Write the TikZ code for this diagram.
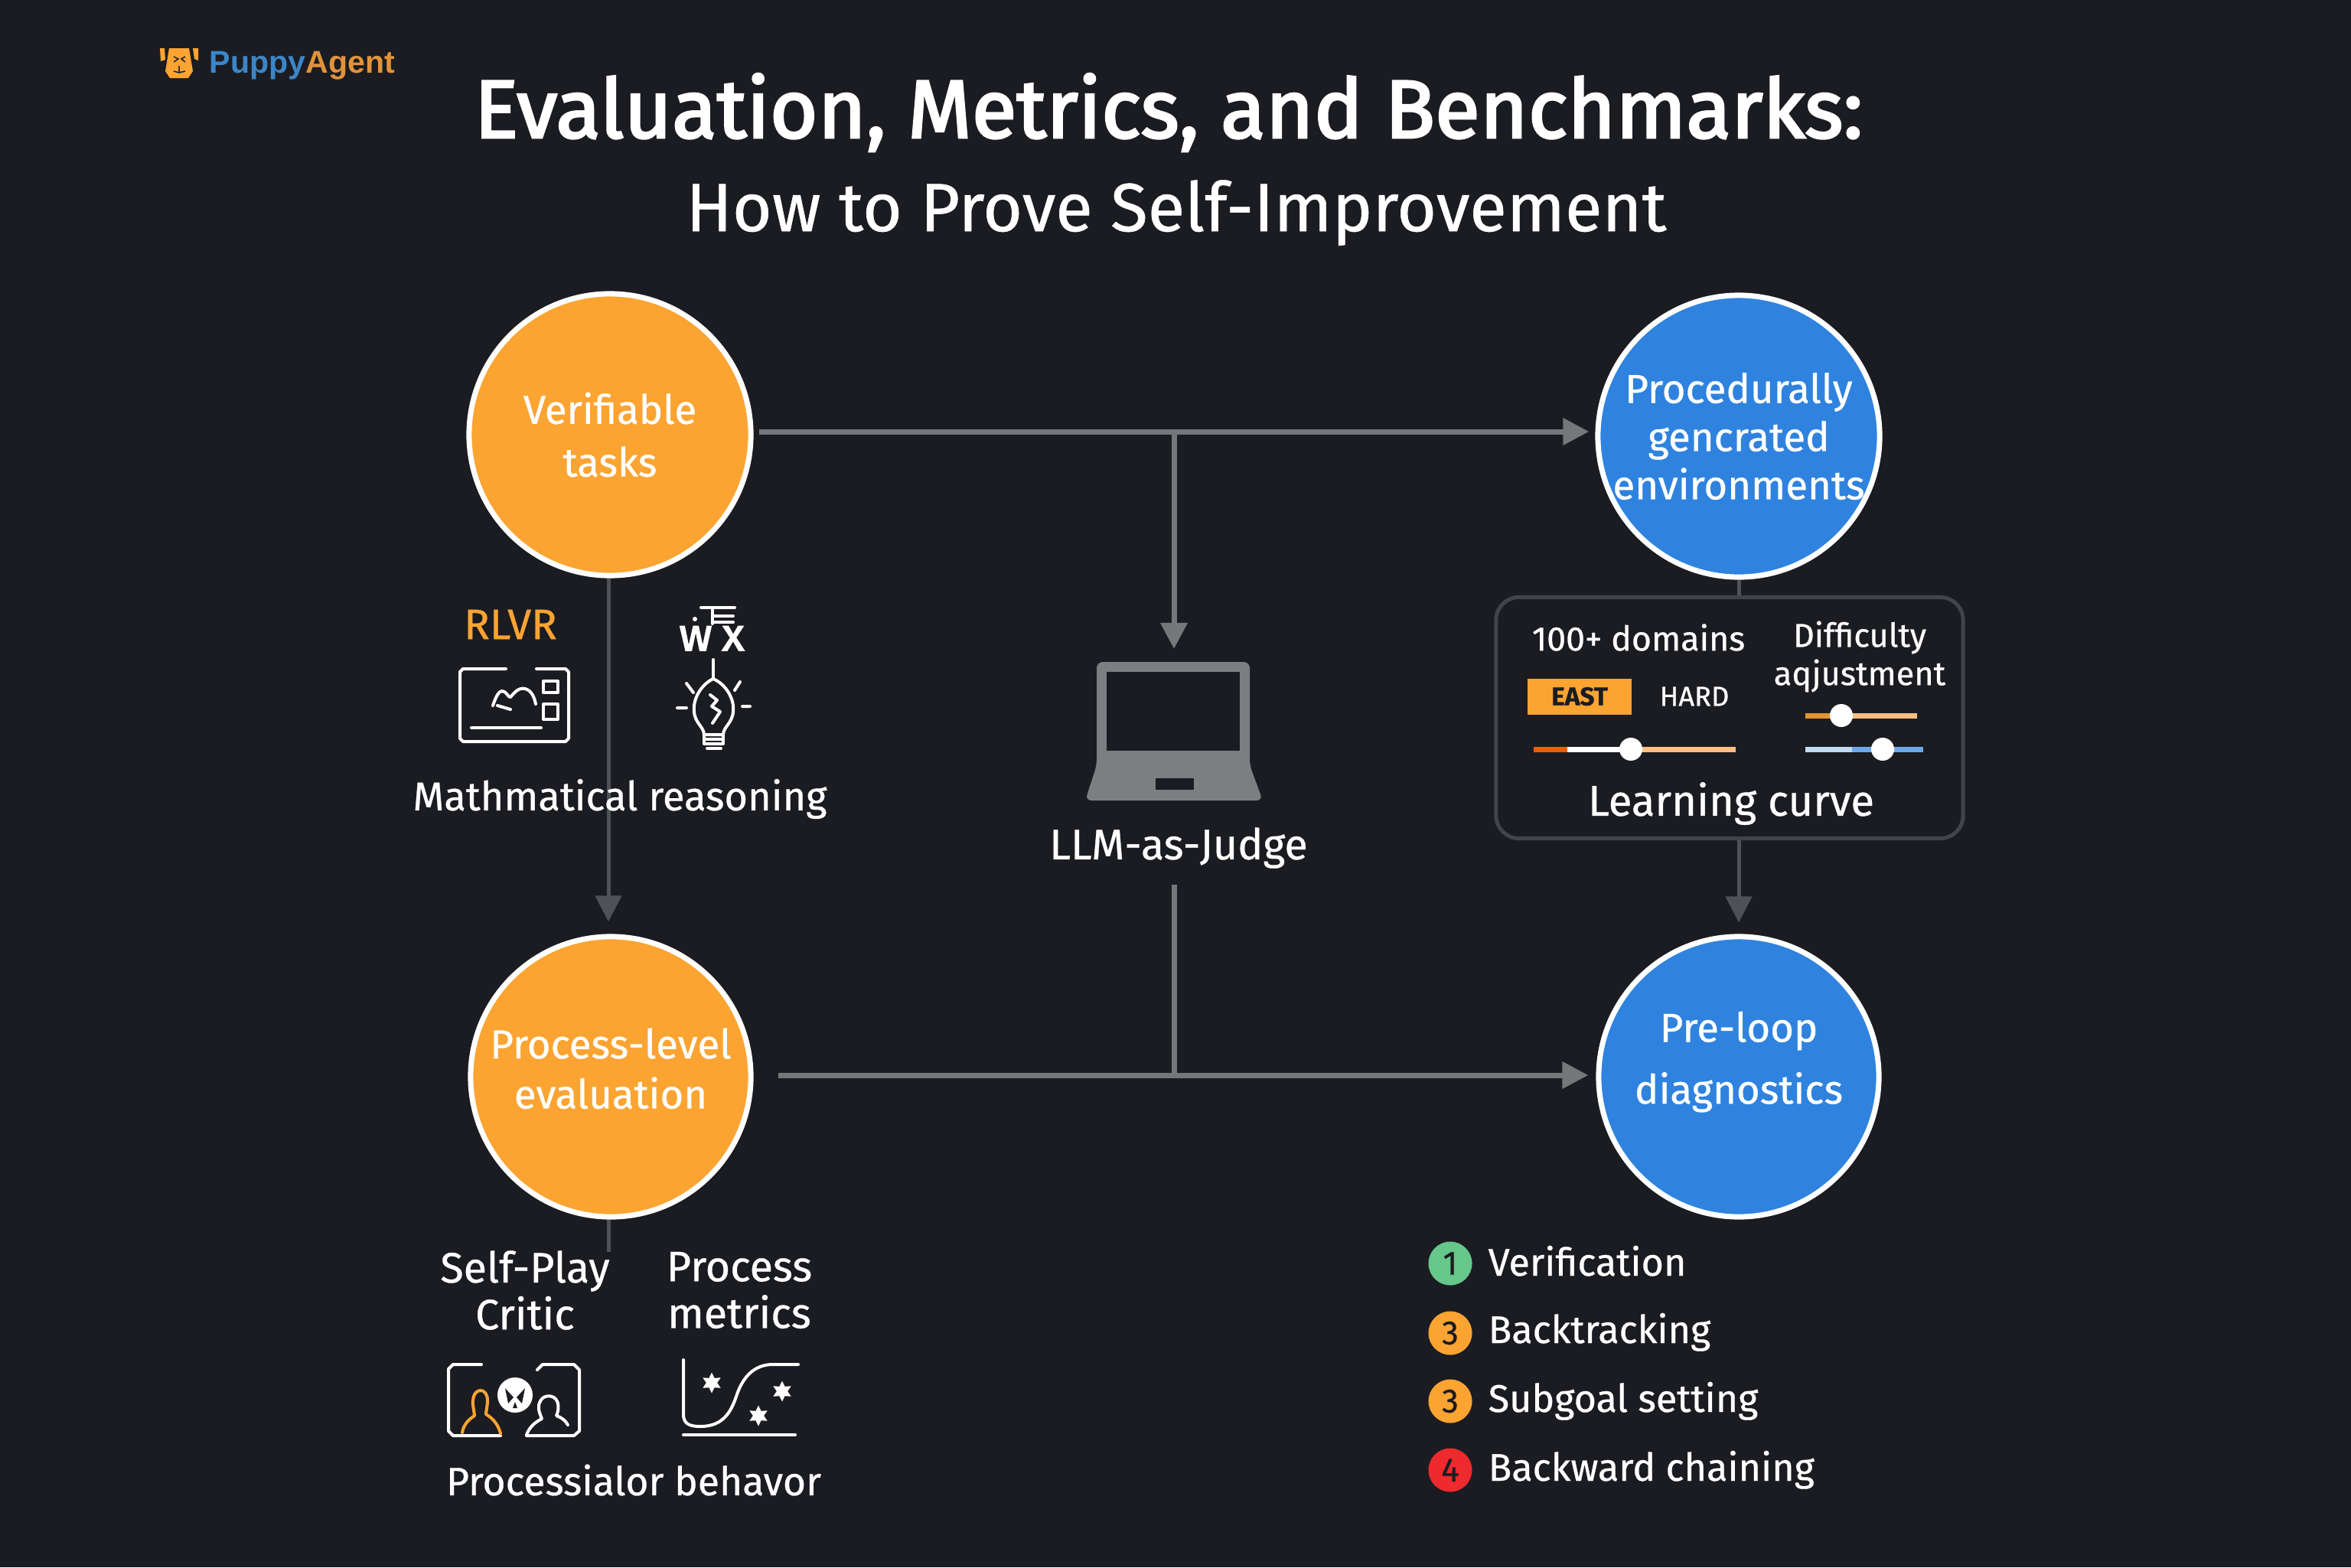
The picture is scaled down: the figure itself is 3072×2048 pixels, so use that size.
\documentclass[tikz,border=0pt]{standalone}
\usepackage{fontspec}
\setmainfont{Fira Sans}[FakeBold=0.6]
\newfontfamily\titlefont{Fira Sans}[FakeBold=2.6]
\newfontfamily\logofont{Liberation Sans}
\usetikzlibrary{arrows.meta, shapes.geometric}

\definecolor{pagebg}{HTML}{1B1C21}
\definecolor{dotorange}{HTML}{FBA432}
\definecolor{dotblue}{HTML}{2F83DF}
\definecolor{dotgreen}{HTML}{66C78A}
\definecolor{dotred}{HTML}{EE2A2E}
\definecolor{linegray}{HTML}{75777B}
\definecolor{linedark}{HTML}{4F5159}
\definecolor{boxline}{HTML}{42444B}
\definecolor{logoblue}{HTML}{3B86C8}
\definecolor{logoorange}{HTML}{E0933A}

\newcommand{\sz}[2]{\fontsize{#1}{#2}\selectfont}

\tikzset{
    bigdot/.style={circle, draw=white, line width=0.07cm, minimum size=3.68cm, inner sep=0pt, text=white, align=center},
    tag/.style={text=white, inner sep=0pt, align=center, font=\sz{14.9}{17.6}},
    flowline/.style={draw=linegray, line width=0.07cm},
    darkline/.style={draw=linedark, line width=0.05cm},
    flowtip/.style={-{Triangle[length=0.34cm, width=0.34cm]}},
    icon/.style={draw=white, line width=0.04cm, line cap=round, line join=round},
    slider/.style={line width=0.07cm},
    numdot/.style={circle, minimum size=0.57cm, inner sep=0pt, text=pagebg, font=\sz{12.5}{14}},
    star6/.style={star, star points=6, star point ratio=1.9, minimum size=0.27cm, inner sep=0pt, fill=white}
}

\begin{document}
\begin{tikzpicture}[x=0.01cm, y=-0.01cm]
    \useasboundingbox (0,0) rectangle (3072,2048);
    \fill[pagebg] (0,0) rectangle (3072,2048);

    % logo
    \fill[dotorange] (221,63) -- (247,63) -- (252,93) -- (246,102) -- (222,102) -- (216,93) -- cycle;
    \fill[dotorange] (209,63) -- (215,63) -- (216,78) -- (210,80) -- cycle;
    \fill[dotorange] (252,63) -- (259,63) -- (259,79) -- (254,77) -- cycle;
    \draw[pagebg, line width=0.015cm] (227,74) -- (233,77) -- (227,81) (242,74) -- (237,77) -- (242,81)
        (234,86) -- (234,95) (227,93) -- (234,95) -- (242,93);
    \node[anchor=base west, inner sep=0pt, font=\logofont\bfseries\sz{11.7}{14}] (logo) at (273,95)
        {\textcolor{logoblue}{Puppy}\textcolor{logoorange}{Agent}};

    % title
    \node[text=white, inner sep=0pt, anchor=base, font=\titlefont\sz{30.6}{36}] (title) at (1527,180)
        {Evaluation, Metrics, and Benchmarks:};
    \node[text=white, inner sep=0pt, anchor=base, font=\sz{25.3}{30}] (subtitle) at (1537,302)
        {How to Prove Self-Improvement};

    % main circles
    \node[bigdot, fill=dotorange, font=\sz{15}{19.6}] (tasks) at (797,568) {Verifiable\\tasks};
    \node[bigdot, fill=dotblue, font=\sz{15}{17.9}] (envs) at (2272,570) {Procedurally\\gencrated\\environments};
    \node[bigdot, fill=dotorange, minimum size=3.66cm, font=\sz{15}{18.6}, text depth=0.22cm] (process) at (798,1407) {Process-level\\evaluation};
    \node[bigdot, fill=dotblue, minimum size=3.66cm, font=\sz{15}{23}, text depth=0.5cm] (preloop) at (2272,1407) {Pre-loop\\diagnostics};

    \node[draw=boxline, line width=0.05cm, rounded corners=0.3cm, minimum width=6.1cm, minimum height=3.15cm, inner sep=0pt] (curvebox) at (2260,938) {};

    \coordinate (topjoin) at (1534,564);
    \coordinate (judgetip) at (1534,848);
    \coordinate (judgeout) at (1534,1156);
    \coordinate (lowjoin) at (1534,1405);
    \coordinate (stubend) at (795,1636);

    % connectors
    \draw[flowline, flowtip, shorten <=0.07cm, shorten >=0.08cm] (tasks.east |- topjoin) -- (envs.west |- topjoin);
    \draw[flowline, flowtip] (topjoin) -- (judgetip);
    \draw[flowline, flowtip, shorten <=0.32cm, shorten >=0.1cm] (process.east |- lowjoin) -- (preloop.west |- lowjoin);
    \draw[flowline] (judgeout) -- (lowjoin);
    \draw[darkline, flowtip, shorten >=0.16cm] (tasks.south -| stubend) -- (process.north -| stubend);
    \draw[darkline] (process.south -| stubend) -- (stubend);
    \draw[darkline] (envs.south) -- (envs.south |- curvebox.north);
    \draw[darkline, flowtip, shorten >=0.15cm] (envs.south |- curvebox.south) -- (preloop.north);

    % under verifiable tasks
    \node[tag, font=\sz{15.8}{18}, text=dotorange] (rlvr) at (667,816) {RLVR};
    \draw[icon] (661,874) -- (605,874) -- (601,878) -- (601,965) -- (605,969) -- (739,969) -- (743,965) -- (743,878) -- (739,874) -- (701,874);
    \draw[icon] (616,951) -- (707,951);
    \draw[icon] (710,890) rectangle (729,905) (710,920) rectangle (729,940);
    \draw[icon] (644,922) .. controls (648,910) and (652,903) .. (656,903) .. controls (662,903) and (664,912) .. (667,911)
        .. controls (672,905) and (678,898) .. (686,900) .. controls (694,902) and (698,910) .. (700,920);
    \draw[icon] (650,922) -- (667,927);
    \node[tag, anchor=base, font=\titlefont\sz{17}{19}] (wglyph) at (909,850) {w};
    \node[tag, anchor=base, font=\titlefont\sz{17}{19}] (xglyph) at (958,850) {x};
    \fill[white] (908,809) circle (3);
    \draw[icon] (916,794) -- (960,794) (931,794) -- (931,815) (931,805) -- (958,805) (931,813) -- (958,813);
    \draw[icon] (932,862) -- (932,887);
    \draw[icon] (932,887) .. controls (950,895) and (960,915) .. (958,930) .. controls (957,945) and (945,950) .. (945,960)
        -- (920,960) .. controls (920,950) and (908,945) .. (907,930) .. controls (905,915) and (915,895) .. (932,887);
    \draw[icon] (920,960) -- (920,972) -- (945,972) -- (945,960) (920,966) -- (945,966) (924,978) -- (942,978);
    \draw[icon] (897,893) -- (906,905) (967,891) -- (960,902) (885,925) -- (897,925) (970,923) -- (980,923);
    \draw[icon] (928,908) -- (937,915) -- (930,923) -- (941,930) -- (931,945);
    \node[tag] (reasoning) at (810,1044) {Mathmatical reasoning};

    % laptop
    \fill[linegray!95!white, rounded corners=0.08cm] (1433,1000) -- (1433,865) -- (1633,865) -- (1633,1000)
        -- (1650,1046) -- (1418,1046) -- cycle;
    \fill[pagebg] (1446,878) rectangle (1620,981);
    \fill[pagebg] (1510,1017) rectangle (1560,1032);
    \node[tag, font=\sz{15.8}{18}] (judge) at (1540,1108) {LLM-as-Judge};

    % box with sliders
    \node[tag, font=\sz{12.7}{15}] (domains) at (2141,833) {100+ domains};
    \node[tag, font=\sz{12.3}{14.2}] (difficulty) at (2430,858) {Difficulty\\aqjustment};
    \node[fill=dotorange, text=pagebg, minimum width=1.35cm, minimum height=0.47cm, inner sep=0pt, font=\bfseries\sz{9.5}{11}] (easy) at (2064,910) {EAST};
    \node[tag, font=\sz{10.3}{12}] (hard) at (2214,910) {HARD};
    \draw[slider, draw=orange!70!red] (2004,979) -- (2048,979);
    \draw[slider, draw=white] (2048,979) -- (2131,979);
    \draw[slider, draw=orange!50!white] (2131,979) -- (2268,979);
    \fill[white] (2131,979) circle (15);
    \draw[slider, draw=dotorange!90!black] (2359,935) -- (2406,935);
    \draw[slider, draw=orange!50!white] (2406,935) -- (2505,935);
    \fill[white] (2406,935) circle (15);
    \draw[slider, draw=white!70!dotblue] (2359,979) -- (2420,979);
    \draw[slider, draw=dotblue!70!white] (2420,979) -- (2513,979);
    \fill[white] (2460,979) circle (15);
    \node[tag, font=\sz{16}{18}] (curve) at (2262,1050) {Learning curve};

    % under process-level evaluation
    \node[tag, font=\sz{15.8}{17.4}] (critic) at (686,1686) {Self-Play\\Critic};
    \node[tag, font=\sz{15.8}{17.4}] (metrics) at (966,1686) {Process\\metrics};
    \draw[icon] (629,1783) -- (592,1783) -- (586,1789) -- (586,1870) -- (592,1876) -- (654,1876);
    \draw[icon] (702,1790) -- (709,1783) -- (750,1783) -- (757,1790) -- (757,1870) -- (750,1876) -- (688,1876);
    \draw[icon, draw=dotorange] (604,1872) .. controls (606,1860) and (614,1854) .. (620,1850) .. controls (619,1840) and (617,1834) .. (618,1830)
        .. controls (619,1820) and (624,1817) .. (628,1817) .. controls (633,1817) and (637,1822) .. (637,1830)
        .. controls (637,1838) and (635,1844) .. (635,1848) .. controls (645,1854) and (651,1862) .. (654,1873);
    \draw[icon] (688,1875) .. controls (692,1864) and (700,1858) .. (708,1854) .. controls (704,1844) and (702,1838) .. (706,1831)
        .. controls (710,1822) and (724,1822) .. (728,1831) .. controls (731,1838) and (729,1846) .. (727,1850)
        .. controls (733,1852) and (739,1856) .. (742,1862);
    \fill[white] (673,1823) circle (23);
    \fill[pagebg] (660,1814) -- (671,1826) -- (664,1834) -- cycle (686,1814) -- (675,1826) -- (682,1834) -- cycle
        (673,1832) -- (676,1840) -- (670,1840) -- cycle;
    \draw[icon] (893,1777) -- (893,1850) .. controls (894,1860) and (900,1864) .. (915,1864)
        .. controls (945,1864) and (955,1845) .. (962,1825) .. controls (970,1800) and (985,1783) .. (1010,1783) -- (1043,1783);
    \draw[icon] (893,1875) -- (1039,1875);
    \node[star6] (starone) at (930,1807) {};
    \node[star6] (startwo) at (1022,1818) {};
    \node[star6] (starthree) at (991,1850) {};
    \node[tag, font=\sz{14.7}{17}] (behavior) at (828,1934) {Processialor behavor};

    % steps under pre-loop diagnostics
    \node[numdot, fill=dotgreen] (stepa) at (1895,1651) {1};
    \node[numdot, fill=dotorange] (stepb) at (1895,1742) {3};
    \node[numdot, fill=dotorange] (stepc) at (1895,1831) {3};
    \node[numdot, fill=dotred] (stepd) at (1895,1921) {4};
    \node[tag, font=\sz{14.3}{17}, anchor=base west] (verif) at (1944,1667) {Verification};
    \node[tag, font=\sz{14.3}{17}, anchor=base west] (backt) at (1944,1755) {Backtracking};
    \node[tag, font=\sz{14.3}{17}, anchor=base west] (subg) at (1944,1845) {Subgoal setting};
    \node[tag, font=\sz{14.3}{17}, anchor=base west] (backw) at (1944,1935) {Backward chaining};
\end{tikzpicture}
\end{document}
